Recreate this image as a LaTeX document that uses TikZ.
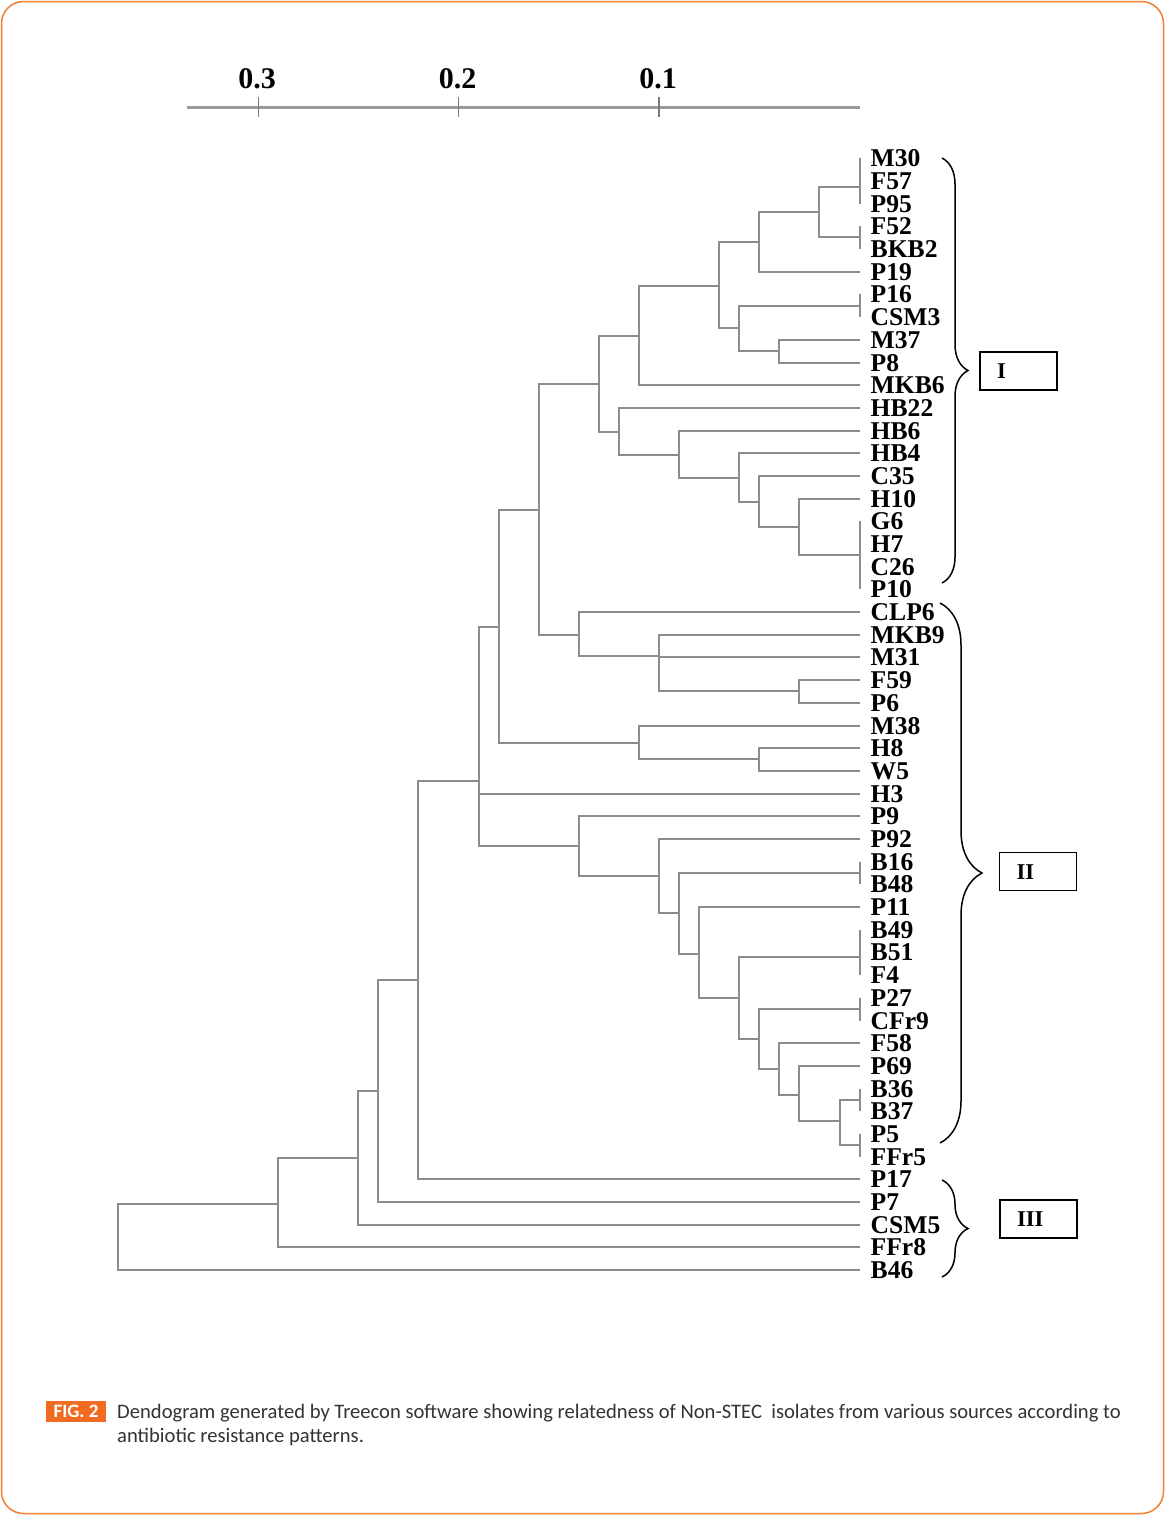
\documentclass[tikz,border=0pt]{standalone}
\usepackage{fontspec}
\setmainfont{Liberation Serif}
\newfontfamily\capfont{Carlito}
\usetikzlibrary{decorations.pathreplacing}
\definecolor{Branch}{HTML}{8C8C8C}
\definecolor{Axis}{HTML}{9A9A9A}
\definecolor{Tick}{HTML}{7A7A7A}
\definecolor{Frame}{HTML}{F47E32}
\definecolor{FigTag}{HTML}{F26B22}
\definecolor{CapText}{HTML}{333333}
\tikzset{
  branch/.style={draw=Branch, line width=2pt},
  isolate/.style={
    anchor=west, inner xsep=11pt, inner ysep=0pt,
    text height=17pt, text depth=0pt,
    font=\bfseries\fontsize{25.6}{26}\selectfont
  },
  scalelabel/.style={font=\bfseries\fontsize{30}{30}\selectfont},
  groupbrace/.style={decorate, decoration={brace, amplitude=#1}, draw=black, line width=1.5pt},
  clusterbox/.style={
    draw=black, line width=1.8pt, text width=43pt, inner xsep=17pt,
    minimum height=38pt, align=left, text height=15pt, text depth=0pt,
    font=\bfseries\fontsize{22.6}{23}\selectfont
  },
  captext/.style={anchor=base west, inner sep=0pt, text=CapText, font=\capfont\fontsize{20.6}{24}\selectfont}
}

\begin{document}
\begin{tikzpicture}[x=1pt,y=-1pt]
  \useasboundingbox (0,0) rectangle (1165,1515);
  \fill[white] (0,0) rectangle (1165,1515);
  \draw[Frame, line width=1.5pt, rounded corners=22pt] (1.5,1.5) rectangle (1163.5,1513.5);

  % scale bar
  \draw[Axis, line width=3pt] (187,107) -- (859.5,107);
  \foreach \v/\xx in {03/258.5,02/458.5,01/659} {
    \draw[Tick, line width=1.5pt] (\xx,97) -- (\xx,117);
  }
  \node[scalelabel] (lab03) at (257,79) {0.3};
  \node[scalelabel] (lab02) at (457.5,79) {0.2};
  \node[scalelabel] (lab01) at (658,79) {0.1};

  % isolates
  \foreach \nm [count=\i] in {M30,F57,P95,F52,BKB2,P19,P16,CSM3,M37,P8,MKB6,HB22,HB6,HB4,C35,H10,G6,H7,C26,P10,
      CLP6,MKB9,M31,F59,P6,M38,H8,W5,H3,P9,P92,B16,B48,P11,B49,B51,F4,P27,CFr9,F58,P69,B36,B37,P5,FFr5,
      P17,P7,CSM5,FFr8,B46}
    \node[isolate] (\nm) at (859.5,{158.3+(\i-1)*22.69}) {\nm};

  % zero-distance groups
  \foreach \a/\b in {M30/P95,F52/BKB2,P16/CSM3,G6/P10,B16/B48,B49/F4,P27/CFr9,B36/B37,P5/FFr5}
    \draw[branch] (\a.west) -- (\b.west);
  \coordinate (gA1) at (859.5,187);
  \coordinate (gA2) at (859.5,237);
  \coordinate (gB) at (859.5,305.5);
  \coordinate (gC) at (859.5,555);
  \coordinate (gD) at (859.5,872.8);
  \coordinate (gE) at (859.5,957);
  \coordinate (gF) at (859.5,1008.9);
  \coordinate (gG) at (859.5,1099.7);
  \coordinate (gH) at (859.5,1145);

  % internal nodes
  \coordinate (n1) at (819.4,212);
  \coordinate (n2) at (759.3,242);
  \coordinate (n3) at (719.2,285.5);
  \coordinate (n4) at (739.2,328);
  \coordinate (n5) at (779.3,351);
  \coordinate (n6) at (639,336);
  \coordinate (n7) at (598.9,384);
  \coordinate (n8) at (618.9,431.5);
  \coordinate (n9) at (679.1,455);
  \coordinate (n10) at (739.2,477.5);
  \coordinate (n11) at (759.3,501.5);
  \coordinate (n12) at (799.4,527);
  \coordinate (n13) at (538.7,510);
  \coordinate (n14) at (578.8,634.5);
  \coordinate (n15) at (659,656);
  \coordinate (n16) at (799.4,691.3);
  \coordinate (n17) at (498.6,627);
  \coordinate (n18) at (639,742.5);
  \coordinate (n19) at (759.3,759.3);
  \coordinate (n20) at (478.6,781);
  \coordinate (n21) at (578.8,846);
  \coordinate (n22) at (659,876);
  \coordinate (n23) at (679.1,913);
  \coordinate (n24) at (699.1,953.5);
  \coordinate (n25) at (739.2,998);
  \coordinate (n26) at (759.3,1039);
  \coordinate (n27) at (779.3,1069);
  \coordinate (n28) at (799.4,1094.5);
  \coordinate (n29) at (839.5,1121);
  \coordinate (n30) at (418.4,980);
  \coordinate (n31) at (378.3,1091);
  \coordinate (n32) at (358.3,1158);
  \coordinate (n33) at (278.1,1204);
  \coordinate (root) at (117.7,1237);

  \foreach \p/\c in {n1/gA1,n1/gA2,n2/n1,n2/P19.west,n3/n2,n3/n4,n4/gB,n4/n5,n5/M37.west,n5/P8.west,
      n6/n3,n6/MKB6.west,n7/n6,n7/n8,n8/HB22.west,n8/n9,n9/HB6.west,n9/n10,n10/HB4.west,n10/n11,
      n11/C35.west,n11/n12,n12/H10.west,n12/gC,n13/n7,n13/n14,n14/CLP6.west,n14/n15,
      n15/MKB9.west,n15/M31.west,n15/n16,n16/F59.west,n16/P6.west,n17/n13,n17/n18,
      n18/M38.west,n18/n19,n19/H8.west,n19/W5.west,n20/n17,n20/H3.west,n20/n21,
      n21/P9.west,n21/n22,n22/P92.west,n22/n23,n23/gD,n23/n24,n24/P11.west,n24/n25,
      n25/gE,n25/n26,n26/gF,n26/n27,n27/F58.west,n27/n28,n28/P69.west,n28/n29,n29/gG,n29/gH,
      n30/n20,n30/P17.west,n31/n30,n31/P7.west,n32/n31,n32/CSM5.west,n33/n32,n33/FFr8.west,
      root/n33,root/B46.west}
    \draw[branch] (\p) |- (\c);

  % clusters
  \draw[groupbrace=26pt] (942,158) -- (942,583);
  \draw[groupbrace=42pt] (940,603) -- (940,1143);
  \draw[groupbrace=26pt] (942,1180) -- (942,1277);
  \node[clusterbox] (clI) at (1018.5,371) {I};
  \node[clusterbox] (clII) at (1038,871.5) {II};
  \node[clusterbox] (clIII) at (1038.5,1219) {III};

  % caption
  \node[fill=FigTag, text=white, minimum width=60pt, minimum height=21pt, inner sep=0pt,
    font=\capfont\bfseries\fontsize{19}{19}\selectfont] (figtag) at (76,1411.5) {FIG. 2};
  \node[captext] (cap1) at (117,1418) {Dendogram generated by Treecon software showing relatedness of Non-STEC\ \ isolates from various sources according to};
  \node[captext] (cap2) at (117,1442) {antibiotic resistance patterns.};
\end{tikzpicture}
\end{document}
